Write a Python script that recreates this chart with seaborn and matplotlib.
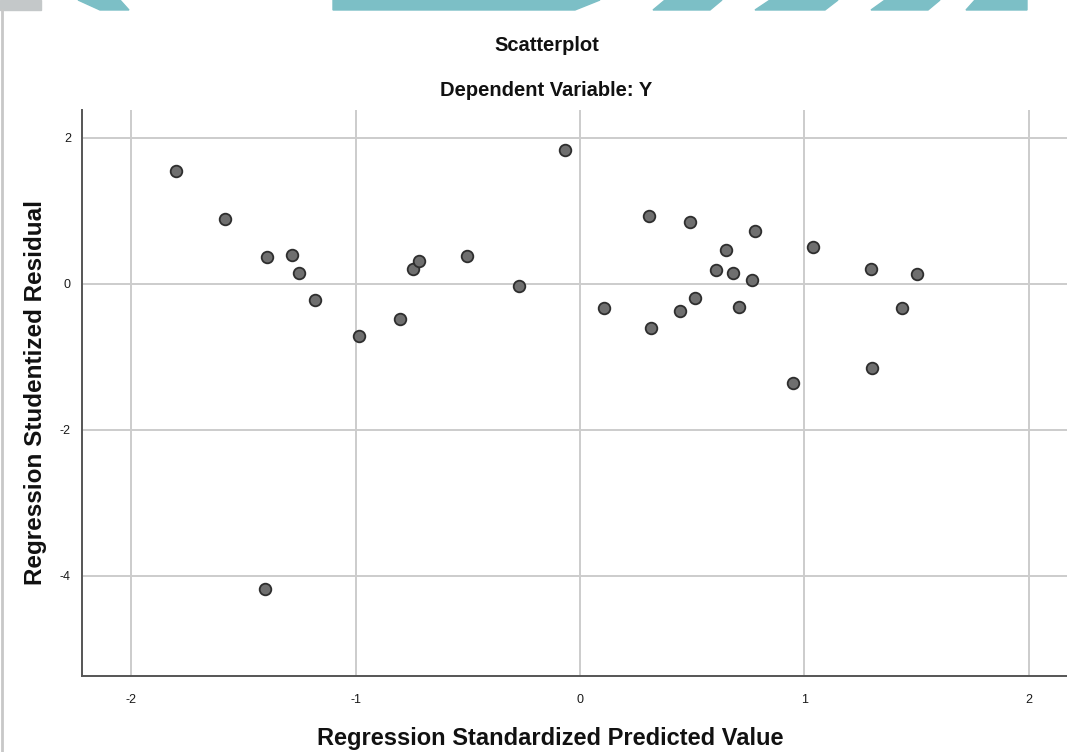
import pandas as pd
import numpy as np
import matplotlib.pyplot as plt
import matplotlib
from matplotlib.patches import Polygon, Rectangle
from matplotlib.lines import Line2D
import seaborn as sns

# standardized predicted value (x) and studentized residual (y)
pred = [-1.80, -1.584, -1.394, -1.284, -1.254, -1.18, -0.987, -0.805,
        -0.746, -0.719, -0.505, -0.274, -0.066, 0.106, 0.309, 0.317,
        0.443, 0.490, 0.510, 0.606, 0.650, 0.680, 0.710, 0.767,
        0.780, 0.950, 1.036, 1.295, 1.299, 1.435, 1.501, -1.404]
resid = [1.54, 0.88, 0.365, 0.39, 0.14, -0.22, -0.71, -0.49,
         0.206, 0.306, 0.374, -0.037, 1.824, -0.33, 0.933, -0.60,
         -0.375, 0.84, -0.19, 0.183, 0.46, 0.15, -0.32, 0.055,
         0.72, -1.36, 0.50, 0.196, -1.15, -0.335, 0.128, -4.18]
x_ticks = [-2, -1, 0, 1, 2]
y_ticks = [2, 0, -2, -4]

if __name__ == '__main__':
    df = pd.DataFrame({'pred': pred, 'resid': resid})

    sns.set_style('white')
    plt.rcParams['font.family'] = ['Liberation Sans', 'DejaVu Sans']

    fig = plt.figure(figsize=(10.67, 7.52), dpi=100)
    ax = fig.add_axes([0.0769, 0.101, 0.9231, 0.753])

    sns.scatterplot(x='pred', y='resid', data=df, ax=ax, s=70,
                    color='#6f6f6f', edgecolor='#2e2e2e', linewidth=1.3, zorder=3)

    ax.set_xlim(-2.22, 2.17)
    ax.set_ylim(-5.37, 2.38)
    ax.set_xticks(x_ticks)
    ax.set_yticks(y_ticks)
    ax.set_xticklabels([str(t) for t in x_ticks], fontsize=9, color='#1a1a1a')
    ax.set_yticklabels([str(t) for t in y_ticks], fontsize=9, color='#1a1a1a')
    ax.tick_params(axis='x', length=0, pad=13)
    ax.tick_params(axis='y', length=0, pad=8)
    ax.grid(True, color='#cccccc', linewidth=1.4)
    ax.set_axisbelow(True)
    for side in ['top', 'right']:
        ax.spines[side].set_visible(False)
    for side in ['left', 'bottom']:
        ax.spines[side].set_color('#555555')
        ax.spines[side].set_linewidth(1.4)

    ax.set_xlabel('Regression Standardized Predicted Value', fontsize=17,
                  fontweight='bold', color='#111111', labelpad=15)
    ax.xaxis.label.set_x(0.475)
    ax.set_ylabel('Regression Studentized Residual', fontsize=17.5,
                  fontweight='bold', color='#111111', labelpad=9)

    fig.text(0.512, 0.940, 'Scatterplot', fontsize=14.5, fontweight='bold',
             color='#111111', ha='center', va='center')
    fig.text(0.512, 0.880, 'Dependent Variable: Y', fontsize=14.5, fontweight='bold',
             color='#111111', ha='center', va='center')

    # watermark fragments along the top edge
    teal = '#7cbfc6'
    H = 752.0
    def px(xs, ys):
        return [(x / 1067.0, 1 - y / H) for x, y in zip(xs, ys)]
    fig.patches.append(Rectangle((0, 1 - 10 / H), 41 / 1067.0, 10 / H,
                                 transform=fig.transFigure, color='#c4c8c9'))
    shapes = [([78, 100, 129, 120], [0, 10, 10, 0]),
              ([333, 333, 575, 600], [0, 10, 10, 0]),
              ([665, 653, 710, 722], [0, 10, 10, 0]),
              ([770, 755, 825, 838], [0, 10, 10, 0]),
              ([885, 871, 928, 940], [0, 10, 10, 0]),
              ([975, 966, 1027, 1027], [0, 10, 10, 0])]
    for xs, ys in shapes:
        fig.patches.append(Polygon(px(xs, ys), closed=True, transform=fig.transFigure, color=teal))
    fig.lines.append(Line2D([2 / 1067.0, 2 / 1067.0], [0, 1 - 10 / H],
                            transform=fig.transFigure, color='#c8c8c8', linewidth=2))

    plt.savefig('out.png', dpi=100)
